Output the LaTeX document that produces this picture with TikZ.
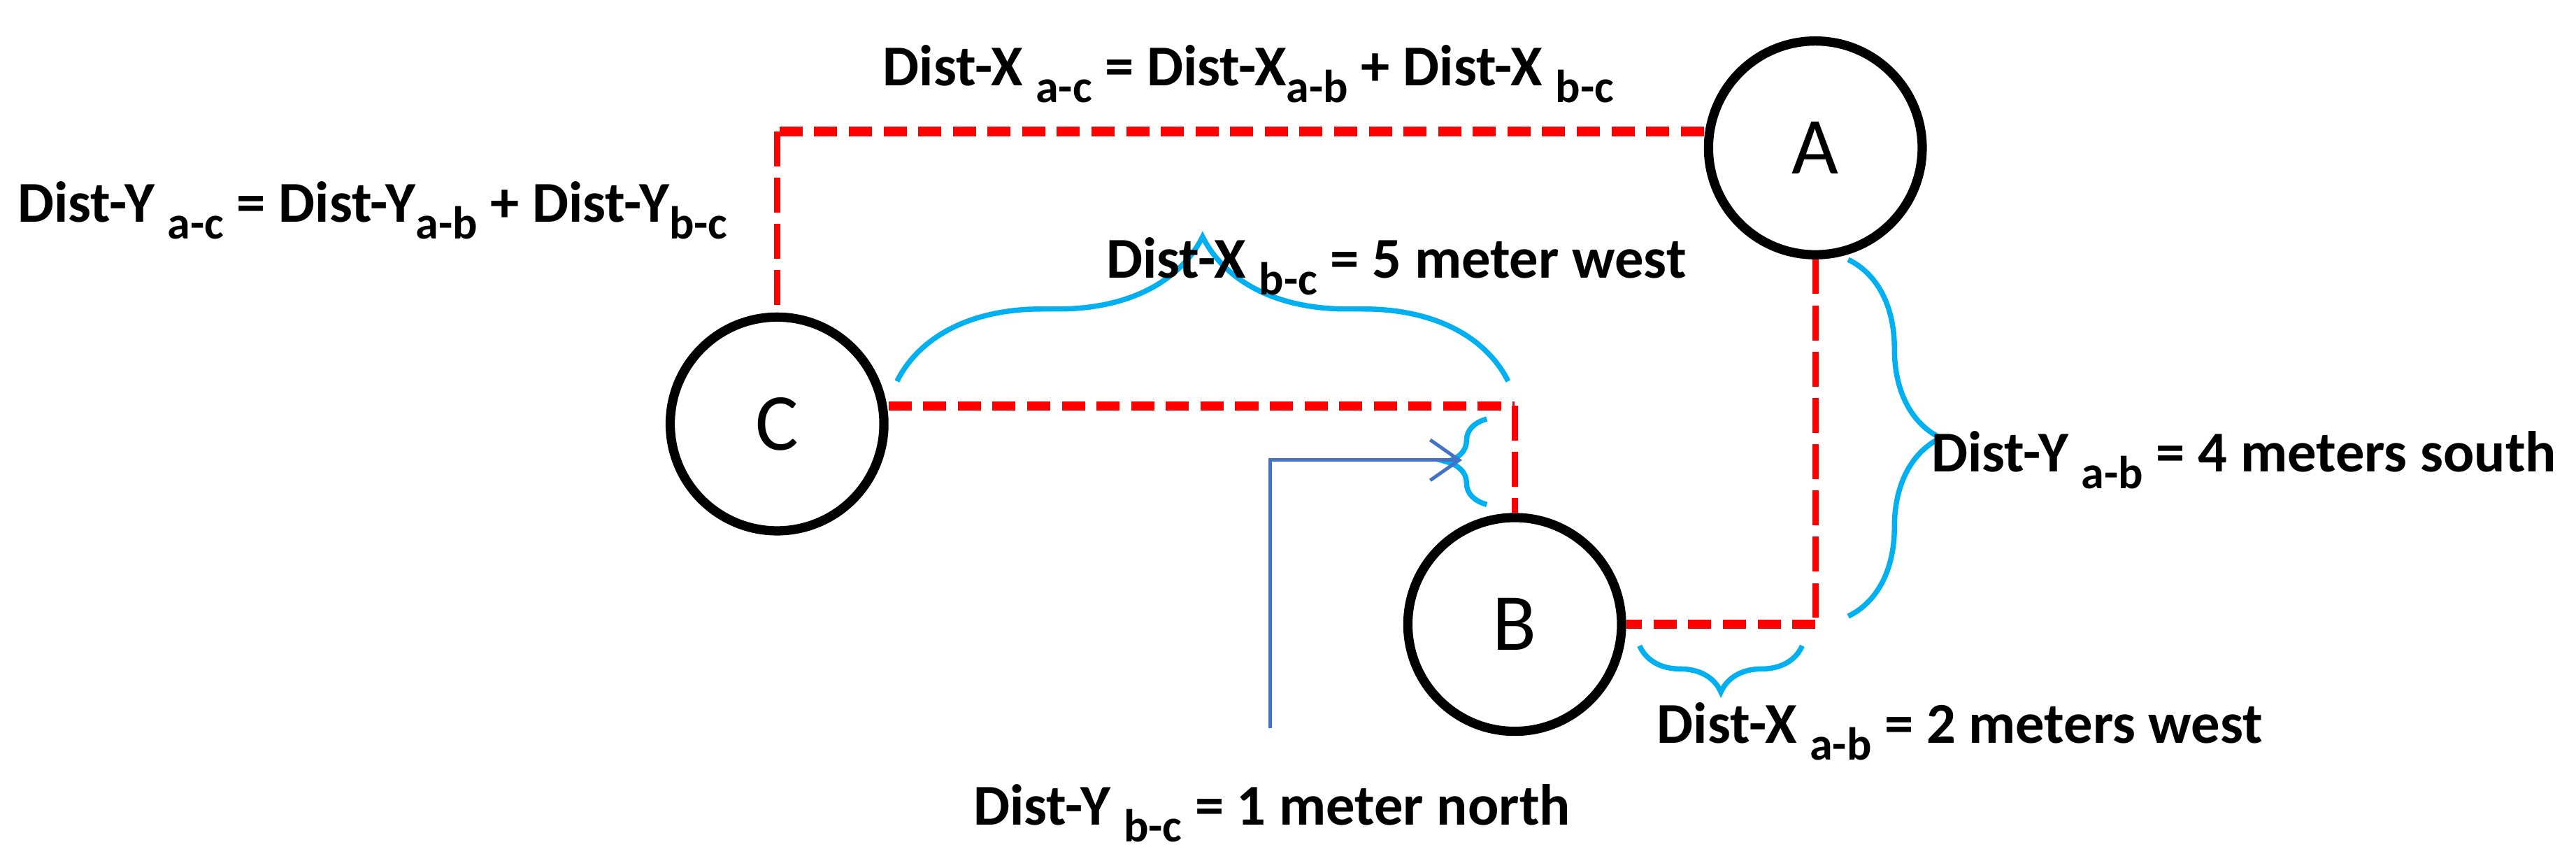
\documentclass[tikz,border=0pt]{standalone}
\usepackage{fontspec}
\setmainfont{Carlito}
\usetikzlibrary{decorations.pathreplacing,arrows.meta}
\definecolor{bracecol}{RGB}{0,176,240}
\definecolor{arrcol}{RGB}{68,114,196}
\newcommand{\dsub}[1]{\raisebox{-0.6ex}{\fontsize{8}{9}\selectfont #1}}
\begin{document}
\begin{tikzpicture}[x=0.01cm,y=-0.01cm,
  circ/.style={circle,draw=black,line width=1.6pt,minimum size=1.3cm,inner sep=0pt,font=\fontsize{14}{16}\selectfont},
  redh/.style={red,line width=1.6pt,dash pattern=on 4pt off 2pt},
  redv/.style={red,line width=1.1pt,dash pattern=on 6pt off 2pt},
  br/.style={draw=bracecol,line width=0.9pt,decorate,decoration={brace,amplitude=#1}},
  lab/.style={font=\bfseries\fontsize{10}{12}\selectfont,inner sep=0pt}]
\useasboundingbox (0,0) rectangle (1568,528);
\node[circ] (A) at (1105,90) {A};
\node[circ] (C) at (473,258) {C};
\node[circ] (B) at (922,380) {B};
\coordinate (p1) at (473,80);
\coordinate (p2) at (1105,380);
\coordinate (p3) at (922,247);
\draw[redh] (A.west|-p1) -- (p1);
\draw[redv] (p1) -- (C.north);
\draw[redv] (A.south) -- (p2);
\draw[redh] (p2) -- (B.east|-p2);
\draw[redh] (C.east|-p3) -- (p3);
\draw[redv] (p3) -- (B.north);
\coordinate (b1) at (546,232); \coordinate (b2) at (918,232);
\draw[br=25pt] (b1) -- (b2);
\coordinate (b3) at (905,307); \coordinate (b4) at (905,255);
\draw[br=7pt] (b3) -- (b4);
\coordinate (b5) at (1125,158); \coordinate (b6) at (1125,375);
\draw[br=16pt] (b5) -- (b6);
\coordinate (b7) at (1097,393); \coordinate (b8) at (998,393);
\draw[br=8pt] (b7) -- (b8);
\coordinate (q1) at (773,443); \coordinate (q2) at (773,280); \coordinate (q3) at (890,280);
\draw[arrcol,line width=0.6pt,-{Straight Barb[length=5pt,width=7pt]}] (q1) -- (q2) -- (q3);
\node[lab] (t1) at (760,45) {Dist-X \dsub{a-c} = Dist-X\dsub{a-b} + Dist-X \dsub{b-c}};
\node[lab,anchor=west] (t2) at (10,128) {Dist-Y \dsub{a-c} = Dist-Y\dsub{a-b} + Dist-Y\dsub{b-c}};
\node[lab] (t3) at (850,162) {Dist-X \dsub{b-c} = 5 meter west};
\node[lab,anchor=west] (t4) at (1175,280) {Dist-Y \dsub{a-b} = 4 meters south};
\node[lab,anchor=west] (t5) at (1008,445) {Dist-X \dsub{a-b} = 2 meters west};
\node[lab,anchor=west] (t6) at (592,495) {Dist-Y \dsub{b-c} = 1 meter north};
\end{tikzpicture}
\end{document}
